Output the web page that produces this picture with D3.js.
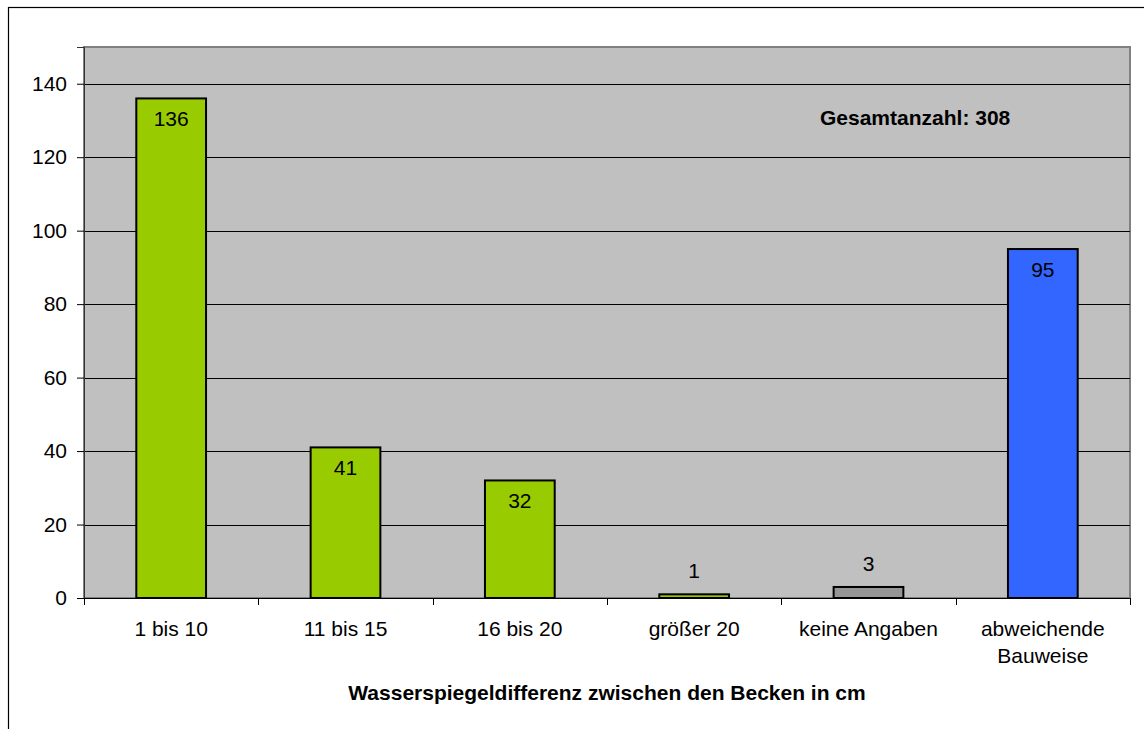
<!DOCTYPE html>
<html>
<head>
<meta charset="utf-8">
<script src="https://cdn.jsdelivr.net/npm/d3@7"></script>
<style>
  body { margin: 0; background: #fff; }
  text { font-family: "Liberation Sans", Arial, sans-serif; fill: #000; }
</style>
</head>
<body>
<div id="chart"></div>
<script>
// data
var categories = ["1 bis 10", "11 bis 15", "16 bis 20", "größer 20", "keine Angaben", "abweichende Bauweise"];
var values = [136, 41, 32, 1, 3, 95];
var barColors = ["#99CC00", "#99CC00", "#99CC00", "#99CC00", "#969696", "#3366FF"];
var yTicks = [0, 20, 40, 60, 80, 100, 120, 140];
var totalLabel = "Gesamtanzahl: 308";
var xTitle = "Wasserspiegeldifferenz zwischen den Becken in cm";

var width = 1144, height = 729;
var margin = { top: 47, right: 14, bottom: 131, left: 84 };
var plotW = width - margin.left - margin.right,
  plotH = height - margin.top - margin.bottom;
var fontSize = "21px";

var svg = d3.select("#chart").append("svg")
  .attr("width", width)
  .attr("height", height);

// outer chart frame (cropped at right and bottom)
svg.append("rect")
  .attr("x", 8.5).attr("y", 7.5)
  .attr("width", 1200).attr("height", 800)
  .attr("fill", "none").attr("stroke", "#000").attr("stroke-width", 1.2);

var g = svg.append("g")
  .attr("transform", "translate(" + margin.left + "," + margin.top + ")");

var x = d3.scaleBand()
  .domain(categories)
  .range([0, plotW])
  .paddingInner(0.6)
  .paddingOuter(0.3);

var xTick = d3.scaleBand().domain(categories).range([0, plotW]);

var y = d3.scaleLinear()
  .domain([0, 150])
  .range([plotH, 0]);

// plot background
g.append("rect")
  .attr("width", plotW).attr("height", plotH)
  .attr("fill", "#C0C0C0")
  .attr("stroke", "#808080").attr("stroke-width", 2);

// gridlines
g.selectAll(".grid")
  .data(yTicks.filter(function(d) { return d > 0; }))
  .enter().append("line")
  .attr("x1", 0).attr("x2", plotW)
  .attr("y1", function(d) { return Math.round(y(d)) + 0.5; })
  .attr("y2", function(d) { return Math.round(y(d)) + 0.5; })
  .attr("stroke", "#000").attr("stroke-width", 1);

// y axis
var yAxis = g.append("g")
  .call(d3.axisLeft(y).tickValues(yTicks).tickSize(7).tickPadding(10).tickFormat(d3.format("d")));
yAxis.select(".domain").attr("stroke", "#333");
yAxis.selectAll("text").style("font-size", fontSize);

// bars
g.selectAll(".bar")
  .data(values)
  .enter().append("rect")
  .attr("x", function(d, i) { return x(categories[i]); })
  .attr("y", function(d) { return y(d); })
  .attr("width", x.bandwidth())
  .attr("height", function(d) { return plotH - y(d); })
  .attr("fill", function(d, i) { return barColors[i]; })
  .attr("stroke", "#000").attr("stroke-width", 2);

// value labels: inside the bar top, above it when the bar is short
g.selectAll(".val")
  .data(values)
  .enter().append("text")
  .attr("x", function(d, i) { return x(categories[i]) + x.bandwidth() / 2; })
  .attr("y", function(d) { return y(d) + (plotH - y(d) > 30 ? 28 : -16); })
  .attr("text-anchor", "middle")
  .style("font-size", fontSize)
  .text(function(d) { return d; });

// x axis
var xAxis = g.append("g")
  .attr("transform", "translate(0," + plotH + ")")
  .call(d3.axisBottom(xTick).tickSize(0).tickFormat(""));
xAxis.select(".domain").attr("stroke", "#000");
xAxis.selectAll(".sep")
  .data(d3.range(categories.length + 1))
  .enter().append("line")
  .attr("x1", function(i) { return Math.round(i * xTick.step()) + 0.5; })
  .attr("x2", function(i) { return Math.round(i * xTick.step()) + 0.5; })
  .attr("y1", 0).attr("y2", 7)
  .attr("stroke", "#000");

// category labels
categories.forEach(function(c, i) {
  var cx = xTick(c) + xTick.bandwidth() / 2;
  var t = g.append("text")
    .attr("x", cx)
    .attr("y", plotH + 38)
    .attr("text-anchor", "middle")
    .style("font-size", fontSize);
  var parts = c === "abweichende Bauweise" ? ["abweichende", "Bauweise"] : [c];
  parts.forEach(function(p, k) {
    t.append("tspan")
      .attr("x", cx)
      .attr("dy", k === 0 ? 0 : 27)
      .text(p);
  });
});

// axis title
g.append("text")
  .attr("x", plotW / 2)
  .attr("y", plotH + 102)
  .attr("text-anchor", "middle")
  .style("font-size", fontSize)
  .style("font-weight", "bold")
  .text(xTitle);

// total annotation
g.append("text")
  .attr("x", 736)
  .attr("y", 78)
  .style("font-size", fontSize)
  .style("font-weight", "bold")
  .text(totalLabel);
</script>
</body>
</html>
